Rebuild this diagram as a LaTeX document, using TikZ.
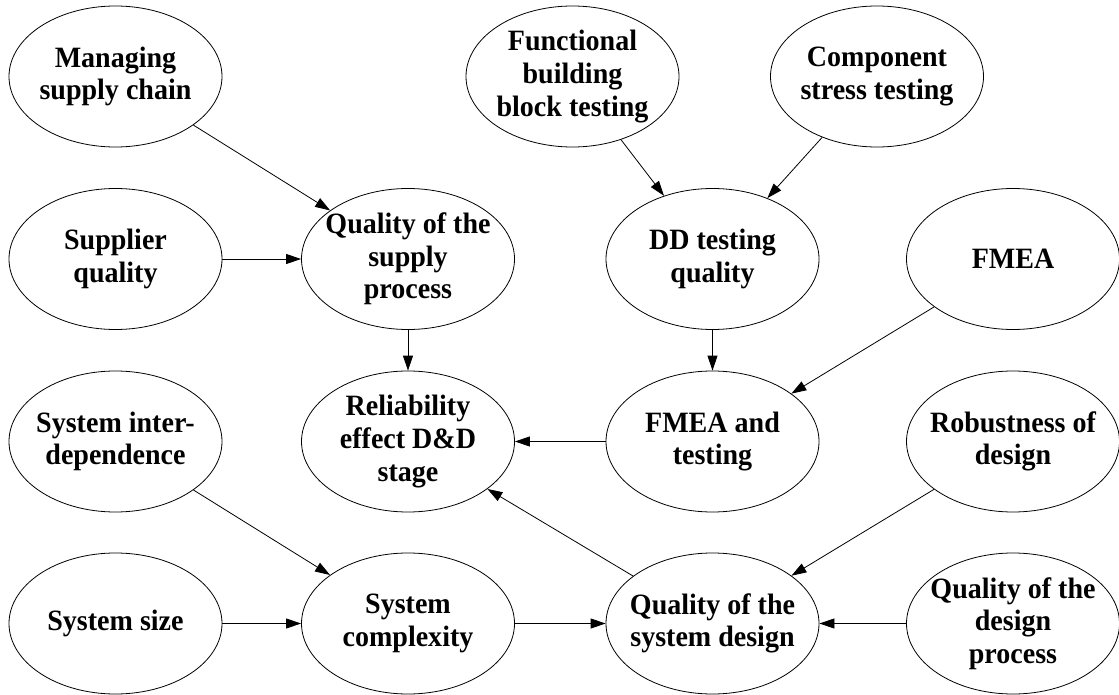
\documentclass[tikz,border=0pt]{standalone}
\usepackage{fontspec}
\setmainfont[FakeStretch=0.95]{Liberation Serif}
\usetikzlibrary{shapes.geometric,arrows.meta}

\begin{document}
\begin{tikzpicture}[x=1pt,y=-1pt,
  factor/.style={ellipse,draw,line width=0.8pt,minimum width=213pt,minimum height=141pt,inner sep=0pt,
    label={[font=\bfseries\fontsize{29.5}{32.7}\selectfont,align=center]center:#1}},
  link/.style={-{Triangle[length=15pt,width=10pt]},line width=0.8pt}]
\useasboundingbox (0,0) rectangle (1119,695);

% top row
\node[factor={Managing\\supply chain}] (msc) at (115.5,76.5) {};
\node[factor={Functional\\building\\block testing}] (fbb) at (572.5,76.5) {};
\node[factor={Component\\stress testing}] (cst) at (877,76.5) {};

% second row
\node[factor={Supplier\\quality}] (sq) at (115.5,259) {};
\node[factor={Quality of the\\supply\\process}] (qsp) at (408,259) {};
\node[factor={DD testing\\quality}] (ddt) at (712.5,259) {};
\node[factor={FMEA}] (fmea) at (1013,259) {};

% third row
\node[factor={System inter-\\dependence}] (sid) at (115.5,441.5) {};
\node[factor={Reliability\\effect D\&D\\stage}] (rel) at (408,441.5) {};
\node[factor={FMEA and\\testing}] (fat) at (712.5,441.5) {};
\node[factor={Robustness of\\design}] (rod) at (1013,441.5) {};

% bottom row
\node[factor={System size}] (ssz) at (115.5,623.5) {};
\node[factor={System\\complexity}] (scx) at (408,623.5) {};
\node[factor={Quality of the\\system design}] (qsd) at (712.5,623.5) {};
\node[factor={Quality of the\\design\\process}] (qdp) at (1013,623.5) {};

% influences
\draw[link] (msc) -- (qsp);
\draw[link] (sq) -- (qsp);
\draw[link] (qsp) -- (rel);
\draw[link] (fbb) -- (ddt);
\draw[link] (cst) -- (ddt);
\draw[link] (ddt) -- (fat);
\draw[link] (fmea) -- (fat);
\draw[link] (fat) -- (rel);
\draw[link] (sid) -- (scx);
\draw[link] (ssz) -- (scx);
\draw[link] (scx) -- (qsd);
\draw[link] (qsd) -- (rel);
\draw[link] (rod) -- (qsd);
\draw[link] (qdp) -- (qsd);
\end{tikzpicture}
\end{document}
